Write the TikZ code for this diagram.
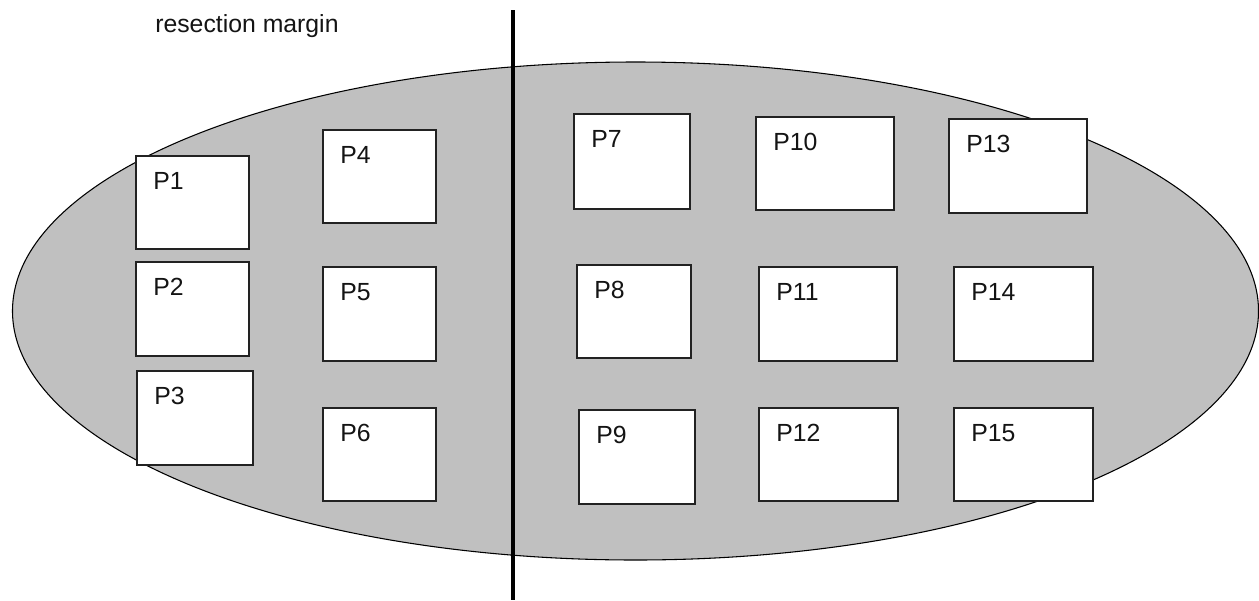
\documentclass[tikz,border=0pt]{standalone}
\usepackage{fontspec}
\setmainfont{Liberation Sans}
\usetikzlibrary{shapes.geometric}
\begin{document}
\begin{tikzpicture}[x=0.75pt,y=-0.75pt,
  region/.style={fill={rgb,255:red,192;green,192;blue,192},draw=black,line width=0.8pt,shape=ellipse,inner sep=0pt},
  pbox/.style={draw={rgb,255:red,34;green,34;blue,34},fill=white,line width=1.1pt,inner sep=0pt,outer sep=0pt,rectangle},
  lbl/.style={anchor=base west,inner sep=0pt,font=\fontsize{18.6}{20}\selectfont,text={rgb,255:red,20;green,20;blue,20}},
  margin/.style={line width=3pt,draw=black}]
\useasboundingbox (0,0) rectangle (1259,600);
\fill[white] (0,0) rectangle (1259,600);
\node[region,minimum width={1246*0.75pt},minimum height={498*0.75pt}] (tumor) at (635.5,311) {};
\newcommand{\pbx}[6]{%
  \node[pbox,minimum width={(#4-#2)*0.75pt},minimum height={(#5-#3)*0.75pt}] (#1) at ({(#2+#4)/2},{(#3+#5)/2}) {};
  \node[lbl] (#1l) at ([xshift=12.75pt,yshift=-24.75pt]#1.north west) {#6};}
\pbx{p1}{136}{156}{249}{249}{P1}
\pbx{p2}{136}{262}{249}{356}{P2}
\pbx{p3}{137}{371}{253}{465}{P3}
\pbx{p4}{323}{130}{436}{223}{P4}
\pbx{p5}{323}{267}{436}{361}{P5}
\pbx{p6}{323}{408}{436}{501}{P6}
\pbx{p7}{574}{114}{690}{209}{P7}
\pbx{p8}{577}{265}{691}{358}{P8}
\pbx{p9}{579}{410}{695}{504}{P9}
\pbx{p10}{756}{117}{894}{210}{P10}
\pbx{p11}{759}{267}{897}{361}{P11}
\pbx{p12}{759}{408}{898}{501}{P12}
\pbx{p13}{949}{119}{1087}{213}{P13}
\pbx{p14}{954}{267}{1093}{361}{P14}
\pbx{p15}{954}{408}{1093}{501}{P15}
\coordinate (mtop) at (513,10);
\coordinate (mbot) at (513,600);
\draw[margin] (mtop) -- (mbot);
\node[lbl] (mlabel) at (155,32) {resection margin};
\end{tikzpicture}
\end{document}
